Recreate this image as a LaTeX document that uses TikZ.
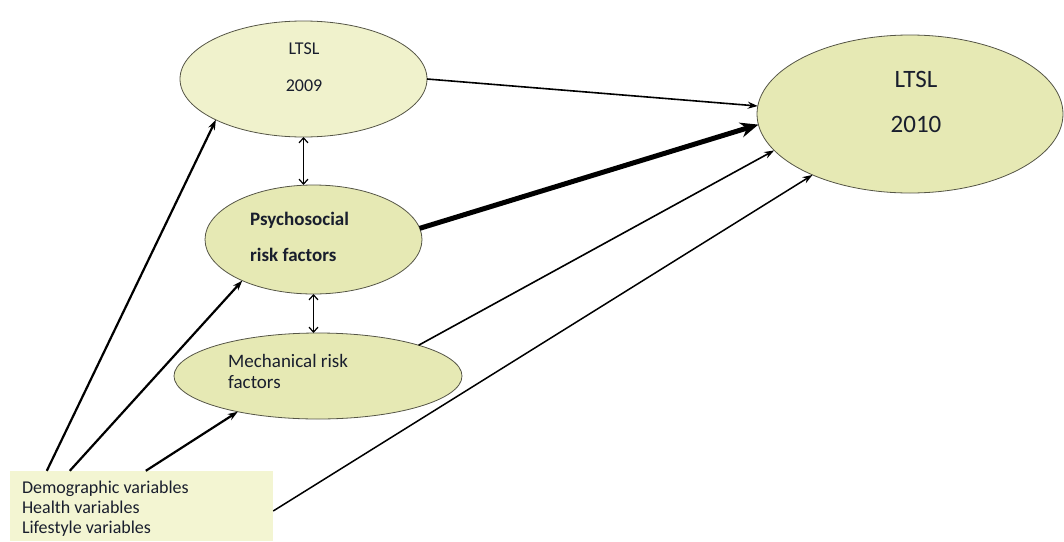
\documentclass[tikz,border=0pt]{standalone}
\usepackage{fontspec}
\setmainfont{Carlito}
\usetikzlibrary{arrows.meta, positioning, calc, shapes.geometric}
\definecolor{PaleOlive}{RGB}{240,242,204}
\definecolor{MediumOlive}{RGB}{230,233,180}
\definecolor{BoxOlive}{RGB}{243,245,210}
\definecolor{EdgeGray}{RGB}{85,85,70}
\definecolor{InkNavy}{RGB}{25,30,45}

\begin{document}
\begin{tikzpicture}[x=1pt, y=-1pt, text=InkNavy,
    blob/.style={ellipse, draw=EdgeGray, line width=0.8pt, inner sep=0pt, outer sep=0pt},
    path/.style={-{Stealth[length=10pt, width=7pt]}, line width=1.6pt},
    strong/.style={-{Stealth[length=18pt, width=15pt]}, line width=5pt},
    link/.style={{Straight Barb[length=5pt, width=9pt]}-{Straight Barb[length=5pt, width=9pt]}, line width=1.2pt}]

\useasboundingbox (0,0) rectangle (1064,541);

% --- elipses ---
\node[blob, fill=PaleOlive, minimum width=247pt, minimum height=116pt] (ltsl09) at (303.5,79) {};
\node[blob, fill=MediumOlive, minimum width=306pt, minimum height=158pt] (ltsl10) at (910,114) {};
\node[blob, fill=MediumOlive, minimum width=217pt, minimum height=109pt] (psy) at (313.5,239.5) {};
\node[blob, fill=MediumOlive, minimum width=288pt, minimum height=86pt] (mech) at (318,376) {};

% --- textos ---
\node[align=center, inner sep=0pt, font=\fontsize{18}{37}\selectfont] (ltsl09txt) at (304,67.7) {LTSL\\2009};
\node[align=center, inner sep=0pt, font=\fontsize{25}{45}\selectfont] (ltsl10txt) at (916,101.5) {LTSL\\2010};
\node[align=left, inner sep=0pt, anchor=west, font=\fontsize{19}{36}\selectfont\bfseries] (psytxt) at (250,236.5)
    {Psychosocial\\risk factors};
\node[align=left, inner sep=0pt, anchor=west, font=\fontsize{19}{20.5}\selectfont] (mechtxt) at (228,371.5)
    {Mechanical risk\\factors};

% --- covariables ---
\node[fill=BoxOlive, inner xsep=12pt, inner ysep=0pt, minimum width=263pt, minimum height=70pt,
      font=\fontsize{18}{20}\selectfont] (box) at (141.5,506)
    {\parbox{239pt}{\vspace*{6pt}Demographic variables\\Health variables\\Lifestyle variables}};

% --- flechas ---
\draw[path, line width=2.2pt] ($(box.north west)+(37,0)$) -- (ltsl09.205.4);
\draw[path, line width=2.2pt] ($(box.north west)+(60,0)$) -- (psy.210.8);
\draw[path, line width=2.2pt] ($(box.north west)+(136,0)$) -- (mech.204.2);
\draw[path, line width=1.5pt] ($(box.east)+(0,5)$) -- (ltsl10.212.5);
\draw[path] (ltsl09.east) -- (ltsl10.177.4);
\draw[strong] (psy.6) -- (ltsl10.184.8);
\draw[path] (mech.17.4) -- (ltsl10.195.9);

% --- correlaciones ---
\draw[link] (ltsl09.south) -- (ltsl09.south |- psy.north);
\draw[link] (psy.south) -- (psy.south |- mech.north);

\end{tikzpicture}
\end{document}
